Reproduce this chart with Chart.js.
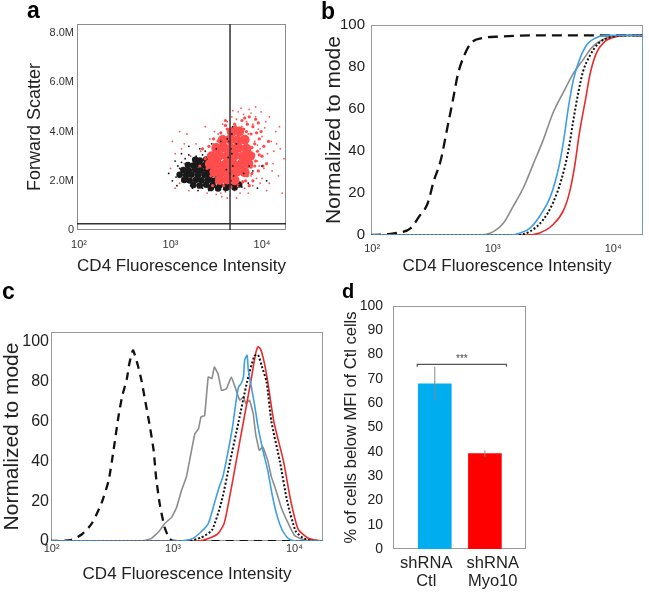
<!DOCTYPE html>
<html>
<head>
<meta charset="utf-8">
<script src="https://cdn.jsdelivr.net/npm/chart.js@4.4.1/dist/chart.umd.min.js"></script>
<style>
  body { margin: 0; background: #fff; }
  #fig { position: relative; width: 649px; height: 592px; overflow: hidden; font-family: "Liberation Sans", Arial, sans-serif; }
  #fig canvas { position: absolute; }
  .tag { position: absolute; font-weight: bold; font-size: 23px; line-height: 23px; color: #000; }
</style>
</head>
<body>
<div id="fig">
  <canvas id="chartA" width="300" height="290" style="left:0;top:0"></canvas>
  <canvas id="chartB" width="349" height="290" style="left:300px;top:0"></canvas>
  <canvas id="chartC" width="330" height="302" style="left:0;top:290px"></canvas>
  <canvas id="chartD" width="319" height="302" style="left:330px;top:290px"></canvas>
  <div class="tag" style="left:27px;top:-1px">a</div>
  <div class="tag" style="left:321px;top:0px">b</div>
  <div class="tag" style="left:2px;top:280px">c</div>
  <div class="tag" style="left:342px;top:281px;font-size:20px;line-height:20px">d</div>
</div>
<script>
// ---- shared axis labels ----
const logTicks = [100, 1000, 10000];
const logTickLabels = ['10²', '10³', '10⁴'];
const intensityTitle = 'CD4 Fluorescence Intensity';
const modeTitle = 'Normalized to mode';
const modeTicks = [0, 20, 40, 60, 80, 100];

// ---- panel a: forward scatter vs CD4 (log10 intensity, millions) ----
const fscTicks = [0, 2, 4, 6, 8];
const gateX = 4470;     // vertical gate
const gateY = 0.25;     // horizontal gate, M
const redCore = [
  [3.67,3.98],[3.75,4.0],
  [3.57,3.66],[3.65,3.68],[3.73,3.64],[3.81,3.67],
  [3.50,3.33],[3.58,3.35],[3.66,3.31],[3.74,3.34],[3.83,3.30],
  [3.45,3.0],[3.53,3.02],[3.62,3.0],[3.70,3.03],[3.79,2.99],[3.87,3.01],
  [3.43,2.68],[3.51,2.7],[3.60,2.66],[3.68,2.69],[3.77,2.67],[3.85,2.7],
  [3.48,2.36],[3.56,2.38],[3.64,2.34],[3.72,2.37],[3.81,2.35],
  [3.54,2.03],[3.62,2.05],[3.70,2.02]
];
const redMid = [
  [3.88,3.9],[3.92,3.5],[3.9,4.2],[3.84,4.3],[3.78,4.45],[3.95,3.2],[3.93,2.8],[3.97,3.7],
  [3.86,4.6],[3.8,4.1],[3.7,4.3],[3.62,4.1],[3.55,3.95],[3.47,3.7],[3.42,3.4],[3.38,2.9],
  [3.4,2.5],[3.44,2.2],[3.5,1.95],[3.58,1.8],[3.66,1.75],[3.74,1.8],[3.82,2.0],[3.89,2.3],
  [3.92,2.6],[3.96,2.4],[4.0,3.0],[4.02,3.4],[3.99,4.0],[3.93,4.5],[3.76,3.0],[3.88,2.55],
  [3.35,3.3],[3.32,2.6],[3.46,1.8],[3.86,1.8],[4.05,2.7],[4.07,3.6],[3.96,4.35],[3.6,4.45],
  [3.91,3.05],[3.89,3.35],[3.9,2.0],[3.84,2.2],[3.6,4.25],[3.52,3.62],[3.46,3.1],[3.41,2.75],
  [3.52,2.15],[3.79,1.95],[3.71,4.2],[3.83,4.0],[3.94,3.95],[3.97,3.05],[4.01,2.6],[3.81,4.55]
];
const redSparse = [
  [3.02,3.6],[3.05,3.1],[3.08,2.3],[3.1,1.9],[3.12,3.3],[3.15,2.7],[3.18,3.9],[3.2,1.6],
  [3.22,3.0],[3.25,2.1],[3.28,3.5],[3.3,1.7],[3.33,3.2],[3.36,2.9],[3.38,4.2],[3.4,1.5],
  [3.43,3.7],[3.45,1.6],[3.48,4.0],[3.5,1.45],[3.52,3.9],[3.55,1.5],[3.57,4.3],[3.6,1.55],
  [3.62,4.4],[3.65,1.4],[3.67,4.6],[3.7,1.6],[3.72,4.5],[3.74,4.8],[3.76,1.5],[3.78,4.2],
  [3.8,4.7],[3.81,1.7],[3.83,4.4],[3.85,3.9],[3.86,4.9],[3.88,2.2],[3.9,4.3],[3.92,3.6],
  [3.93,4.6],[3.95,2.8],[3.96,4.1],[3.98,3.3],[4.0,3.8],[4.02,2.5],[4.04,4.4],[4.06,3.1],
  [4.08,1.9],[4.1,3.6],[4.12,2.7],[4.15,4.0],[4.18,2.2],[4.2,3.3],[4.22,1.5],[4.24,2.9],
  [3.82,3.4],[3.84,2.9],[3.87,3.3],[3.89,2.6],[3.91,3.1],[3.94,2.1],[3.97,2.6],[3.79,2.0],
  [3.77,2.5],[3.9,1.8],[4.0,2.1],[3.7,4.1],[3.64,4.0],[3.58,3.8],[3.53,3.4],[3.47,3.5],
  [3.42,3.0],[3.1,4.0],[3.0,2.5],[3.93,5.0],[4.08,4.6],[3.99,4.8],[4.13,3.2],[4.05,1.6],
  [3.85,1.5],[3.72,1.3],[3.56,1.35],[3.77,4.95],[3.88,4.75],[4.03,4.15],[4.11,2.4],[4.16,3.5],
  [3.98,1.9],[3.68,4.85],[3.62,1.3],[3.28,2.7],[3.15,3.5],[3.05,1.7],[4.19,4.2],[3.95,3.45]
];
const blackCore = [
  [3.27,2.85],[3.32,2.82],[3.39,2.86],
  [3.19,2.64],[3.25,2.62],[3.31,2.66],[3.37,2.63],[3.42,2.65],
  [3.14,2.44],[3.2,2.42],[3.27,2.45],[3.33,2.43],[3.4,2.44],[3.46,2.41],
  [3.1,2.24],[3.17,2.22],[3.23,2.25],[3.3,2.23],[3.37,2.24],[3.43,2.22],[3.5,2.25],
  [3.15,2.03],[3.21,2.01],[3.28,2.04],[3.34,2.02],[3.41,2.03],[3.47,2.0],[3.54,2.02],[3.61,2.01],
  [3.25,1.83],[3.32,1.81],[3.39,1.84],[3.46,1.82],[3.54,1.83],[3.62,1.81],[3.68,1.84],[3.75,1.85],
  [3.44,1.71],[3.52,1.69],[3.61,1.72],[3.7,1.73]
];
const blackSparse = [
  [2.98,2.3],[3.02,2.0],[3.05,2.8],[3.07,1.8],[3.1,2.5],[3.12,3.1],[3.14,2.0],[3.16,2.9],
  [3.2,3.4],[3.22,1.8],[3.25,2.7],[3.28,3.0],[3.3,1.6],[3.32,3.3],[3.35,1.7],[3.38,3.2],
  [3.42,1.6],[3.45,3.5],[3.5,3.3],[3.55,3.6],[3.6,1.6],[3.62,3.7],[3.66,3.3],[3.68,4.2],
  [3.7,1.7],[3.72,3.5],[3.75,1.8],[3.8,2.3],[3.85,1.9],[3.9,2.4],[3.95,1.7],[4.0,2.6],
  [4.05,2.0],[3.67,3.9],[3.64,3.6],[3.66,2.0],[3.68,2.6],[3.65,2.3],[3.08,2.6],[3.18,2.3],
  [3.12,2.75],[3.06,2.15],[3.2,3.05],[3.35,3.05],[3.24,1.7],[3.58,1.65],[3.78,1.75],[3.86,2.6],
  [3.63,2.95],[3.67,3.1],[3.61,2.45],[3.69,2.2]
];

// ---- panel b: cumulative curves (log10 intensity, % of mode) ----
const cdfIsoE = [1.99,2.10,2.18,2.32,2.39,2.46,2.51,2.57,2.62,2.67,2.71,2.76,2.82,2.91,3.06,3.34,4.25];
const cdfIsoY = [0,0.3,0.8,3.3,8.9,15,25.5,35.8,50,64.3,76.2,85,91.3,93.7,94.5,95.1,95.1];
const cdfGrayE = [1.99,2.90,3.01,3.09,3.17,3.26,3.34,3.42,3.50,3.59,3.67,3.75,3.83,3.92,4.03,4.25];
const cdfGrayY = [0,0,1.7,5.7,13.6,23.1,34.2,45.3,58,68.3,77,83.4,89.7,93.2,94.9,95];
const cdfBlueE = [1.99,3.15,3.23,3.31,3.39,3.48,3.55,3.59,3.63,3.67,3.72,3.78,3.85,3.94,4.25];
const cdfBlueY = [0,0,1,3.3,8.9,18.4,32.6,45.3,61.2,73.9,83.4,90.5,93.7,95.1,95];
const cdfBlueEdgeE = [4.248, 4.248];
const cdfBlueEdgeY = [95, 0];
const cdfDotE = [1.99,3.20,3.31,3.42,3.50,3.57,3.63,3.67,3.71,3.75,3.81,3.88,3.97,4.11,4.25];
const cdfDotY = [0,0,1.7,7.3,15.2,26.3,40.6,54.8,67.5,77.8,85.7,91.3,94.1,95,95];
const cdfRedE = [1.99,3.28,3.39,3.50,3.59,3.64,3.68,3.72,3.77,3.81,3.86,3.93,4.03,4.17,4.25];
const cdfRedY = [0,0,1,4.9,12,20.8,32.6,48.5,64.3,77,86.5,92.1,94.5,95.1,95];

// ---- panel c: histograms ----
const histIsoE = [1.99,2.16,2.25,2.33,2.41,2.47,2.51,2.55,2.58,2.62,2.64,2.67,2.69,2.71,2.74,2.77,2.81,2.84,2.86,2.89,2.93,2.97,3.01,4.24];
const histIsoY = [0,0.5,3.4,8.7,18.8,30.5,45.6,62.3,72.4,81.6,89.1,95.8,92.5,88.3,80.7,70.7,57.3,45.6,32.2,18.8,7,1.2,0,0];
const histGrayE = [1.99,2.74,2.82,2.88,2.93,2.99,3.03,3.07,3.11,3.18,3.21,3.23,3.26,3.29,3.32,3.34,3.37,3.40,3.44,3.48,3.52,3.55,3.58,3.60,3.63,3.66,3.68,3.71,3.74,3.78,3.81,3.84,3.89,3.95,4.00,4.07,4.14,4.24];
const histGrayY = [0,0,1.2,4.5,8.7,12,17,25.5,32.2,54,56.4,62.3,63,82.4,81.6,87.4,84,75.7,76.5,82.4,75.7,70.7,72.4,69,70.7,64,54,45.6,47.2,40.5,32.2,27,17,8.7,2.8,0.7,0,0];
const histBlueE = [1.99,3.07,3.16,3.23,3.29,3.34,3.38,3.41,3.45,3.49,3.52,3.54,3.56,3.58,3.59,3.61,3.62,3.65,3.67,3.70,3.74,3.78,3.79,3.82,3.86,3.90,3.95,4.00,4.24];
const histBlueY = [0,0,1.2,4.5,8.7,18.8,27.1,32.2,43.9,57.3,70.7,77.4,79,82.4,90.8,93.3,85.8,75.7,69,57.3,45.6,35.5,32.2,22.1,12,5.4,1.2,0,0];
const histDotE = [1.99,3.12,3.23,3.32,3.40,3.47,3.54,3.61,3.67,3.70,3.73,3.77,3.81,3.88,3.94,4.01,4.08,4.16,4.24];
const histDotY = [0,0,1.7,5.4,20,40,60,80,93,93.5,88,80,60,40,20,5,1.2,0,0];
const histRedE = [1.99,3.21,3.29,3.37,3.42,3.46,3.52,3.58,3.64,3.68,3.70,3.72,3.75,3.78,3.83,3.91,3.97,4.03,4.11,4.18,4.24];
const histRedY = [0,0,1.2,3.7,8.7,20,40,60,80,94,97.5,96.5,90,80,60,40,20,6,1.5,0.3,0];

// ---- panel d: bars ----
const barCats = [['shRNA', 'Ctl'], ['shRNA', 'Myo10']];
const barVals = [68, 39.3];
const barErr = [7, 1.3];
const barColors = ['#00aeef', '#ff0000'];
const pctTicks = [0, 10, 20, 30, 40, 50, 60, 70, 80, 90, 100];
const sigFrom = -0.35, sigTo = 1.43, sigY = 76, sigDrop = 1, sigTextY = 78;
const sigLabel = '***';

// ---------------------------------------------------------------
const FONT = '"Liberation Sans", Arial, sans-serif';
Chart.defaults.font.family = FONT;
Chart.defaults.color = '#222';
Chart.defaults.animation = false;
Chart.defaults.events = [];
Chart.defaults.plugins.legend.display = false;
Chart.defaults.plugins.tooltip.enabled = false;

// grey box round each plot area
Chart.register({
    id: 'frame',
    beforeDatasetsDraw(chart, args, opts) {
        const { ctx, chartArea: a } = chart;
        ctx.save();
        ctx.strokeStyle = opts.color || '#999';
        ctx.lineWidth = 1;
        ctx.strokeRect(Math.round(a.left) + 0.5, Math.round(a.top) + 0.5,
            Math.round(a.width) - 1, Math.round(a.height) - 1);
        ctx.restore();
    }
});

function fitWidth(w) {
    return s => { s.width = w; s.paddingLeft = s.paddingRight = s.paddingTop = s.paddingBottom = 0; };
}
function fitHeight(h) {
    return s => { s.height = h; s.paddingLeft = s.paddingRight = s.paddingTop = s.paddingBottom = 0; };
}
const fixTicks = vals => s => { s.ticks = vals.map(v => ({ value: v })); };
const noGrid = { display: false, drawTicks: false };
const toPts = list => list.map(([e, m]) => ({ x: 10 ** e, y: m }));
const curve = (es, ys) => es.map((e, i) => ({ x: 10 ** e, y: ys[i] }));

function logAxis(minE, maxE, pad, h, titlePad) {
    return {
        type: 'logarithmic', min: 10 ** minE, max: 10 ** maxE,
        afterBuildTicks: fixTicks(logTicks),
        ticks: { callback: (v, i) => logTickLabels[i], font: { size: 11 }, padding: pad, maxRotation: 0, autoSkip: false, color: '#333' },
        grid: noGrid, border: { display: false },
        title: { display: true, text: intensityTitle, font: { size: 17 }, padding: { top: 0, bottom: titlePad }, color: '#222' },
        afterFit: fitHeight(h)
    };
}

function modeAxis(max, tickSize, pad, w, titlePad) {
    return {
        type: 'linear', min: 0, max: max,
        afterBuildTicks: fixTicks(modeTicks),
        ticks: { font: { size: tickSize }, padding: pad, color: '#222' },
        grid: noGrid, border: { display: false },
        title: { display: true, text: modeTitle, font: { size: 21 }, padding: { top: titlePad, bottom: 0 }, color: '#222' },
        afterFit: fitWidth(w)
    };
}

const dots = (list, r, color) => ({
    data: toPts(list), pointRadius: r, pointBackgroundColor: color, pointBorderWidth: 0, pointHoverRadius: r
});

// ---- a ----
new Chart(document.getElementById('chartA'), {
    type: 'scatter',
    data: {
        datasets: [
            { data: [{ x: gateX, y: 0 }, { x: gateX, y: 9 }], showLine: true, borderColor: '#333', borderWidth: 1.5, pointRadius: 0 },
            { data: [{ x: 50, y: gateY }, { x: 30000, y: gateY }], showLine: true, borderColor: '#333', borderWidth: 1.5, pointRadius: 0 },
            dots(blackSparse, 0.9, '#111'),
            dots(redCore, 5, '#ff4d4d'),
            dots(redMid, 1.6, '#ff4a4a'),
            dots(blackCore, 3.3, '#1a1a1a'),
            dots(redSparse, 0.9, '#f55')
        ]
    },
    options: {
        responsive: false,
        layout: { padding: { left: 0, top: 24, right: 14, bottom: 0 } },
        plugins: { frame: { color: '#8c8c8c' } },
        scales: {
            x: logAxis(1.978, 4.262, 8, 60, 13),
            y: {
                type: 'linear', min: 0, max: 8.37,
                afterBuildTicks: fixTicks(fscTicks),
                ticks: { callback: v => v === 0 ? '0' : v.toFixed(1) + 'M', font: { size: 11 }, padding: 3, color: '#333' },
                grid: noGrid, border: { display: false },
                title: { display: true, text: 'Forward Scatter', font: { size: 18 }, padding: { top: 24, bottom: 0 }, color: '#222' },
                afterFit: fitWidth(77)
            }
        }
    }
});

// ---- b ----
const lineSet = (pts, color, width, dash, tension) => ({
    data: pts, borderColor: color, borderWidth: width, borderDash: dash || [], pointRadius: 0,
    tension: tension, fill: false
});

new Chart(document.getElementById('chartB'), {
    type: 'line',
    data: {
        datasets: [
            Object.assign(lineSet(curve(cdfBlueE, cdfBlueY), '#3f9fe0', 1.6), { cubicInterpolationMode: 'monotone' }),
            lineSet(curve(cdfBlueEdgeE, cdfBlueEdgeY), '#3f9fe0', 1.6, [2, 1], 0),
            Object.assign(lineSet(curve(cdfDotE, cdfDotY), '#111', 2, [2, 2]), { cubicInterpolationMode: 'monotone' }),
            Object.assign(lineSet(curve(cdfRedE, cdfRedY), '#e82c2c', 1.6), { cubicInterpolationMode: 'monotone' }),
            Object.assign(lineSet(curve(cdfGrayE, cdfGrayY), '#8c8c8c', 1.6), { cubicInterpolationMode: 'monotone' }),
            Object.assign(lineSet(curve(cdfIsoE, cdfIsoY), '#111', 2.3, [10, 6]), { cubicInterpolationMode: 'monotone' })
        ]
    },
    options: {
        responsive: false,
        layout: { padding: { left: 0, top: 25, right: 6, bottom: 0 } },
        plugins: { frame: { color: '#999' } },
        scales: {
            x: logAxis(1.99, 4.248, 7, 55, 13),
            y: modeAxis(100, 15, 6, 71, 22)
        }
    }
});

// ---- c ----
new Chart(document.getElementById('chartC'), {
    type: 'line',
    data: {
        datasets: [
            lineSet(curve(histBlueE, histBlueY), '#3f9fe0', 1.6, null, 0.2),
            lineSet(curve(histDotE, histDotY), '#111', 2, [2, 2], 0.2),
            lineSet(curve(histRedE, histRedY), '#e82c2c', 1.6, null, 0.2),
            lineSet(curve(histGrayE, histGrayY), '#8c8c8c', 1.6, null, 0.1),
            lineSet(curve(histIsoE, histIsoY), '#111', 2.3, [8, 6], 0.2)
        ]
    },
    options: {
        responsive: false,
        layout: { padding: { left: 0, top: 42, right: 7, bottom: 0 } },
        plugins: { frame: { color: '#999' } },
        scales: {
            x: logAxis(1.995, 4.235, 1, 51, 7),
            y: modeAxis(105, 16, 2, 51, 0)
        }
    }
});

// ---- d ----
const starsPlugin = {
    id: 'stars',
    afterDatasetsDraw(chart) {
        const { ctx, scales: { xBar, y } } = chart;
        ctx.save();
        ctx.font = '10px ' + FONT;
        ctx.fillStyle = '#444';
        ctx.textAlign = 'center';
        ctx.textBaseline = 'middle';
        ctx.fillText(sigLabel, xBar.getPixelForValue((sigFrom + sigTo) / 2), y.getPixelForValue(sigTextY));
        ctx.restore();
    }
};

const errSets = barVals.map((v, i) => ({
    type: 'line', xAxisID: 'xBar',
    data: [{ x: i, y: v - barErr[i] }, { x: i, y: v + barErr[i] }],
    borderColor: '#888', borderWidth: 1, pointRadius: 0
}));

new Chart(document.getElementById('chartD'), {
    type: 'bar',
    data: {
        labels: barCats,
        datasets: [
            {
                type: 'line', xAxisID: 'xBar',
                data: [{ x: sigFrom, y: sigY - sigDrop }, { x: sigFrom, y: sigY }, { x: sigTo, y: sigY }, { x: sigTo, y: sigY - sigDrop }],
                borderColor: '#555', borderWidth: 1.2, pointRadius: 0
            },
            ...errSets,
            {
                xAxisID: 'xBar',
                data: barVals.map((v, i) => ({ x: i, y: v })),
                backgroundColor: barColors, borderWidth: 0, barThickness: 33
            }
        ]
    },
    options: {
        responsive: false,
        layout: { padding: { left: 0, top: 16, right: 123, bottom: 0 } },
        plugins: { frame: { color: '#999' } },
        scales: {
            x: {
                type: 'category', offset: true,
                ticks: { font: { size: 16.5, lineHeight: 1.12 }, padding: 5, maxRotation: 0, autoSkip: false, color: '#222' },
                grid: noGrid, border: { display: false },
                afterFit: fitHeight(43)
            },
            xBar: {
                type: 'linear', position: 'bottom', display: false,
                min: -0.834, max: 1.82, offset: false
            },
            y: {
                type: 'linear', min: 0, max: 100,
                afterBuildTicks: fixTicks(pctTicks),
                ticks: { font: { size: 14 }, padding: 10, color: '#222' },
                grid: noGrid, border: { display: false },
                title: { display: true, text: '% of cells below MFI of Ctl cells', font: { size: 16.5 }, padding: { top: 12, bottom: 0 }, color: '#222' },
                afterFit: fitWidth(63)
            }
        }
    },
    plugins: [starsPlugin]
});
</script>
</body>
</html>
